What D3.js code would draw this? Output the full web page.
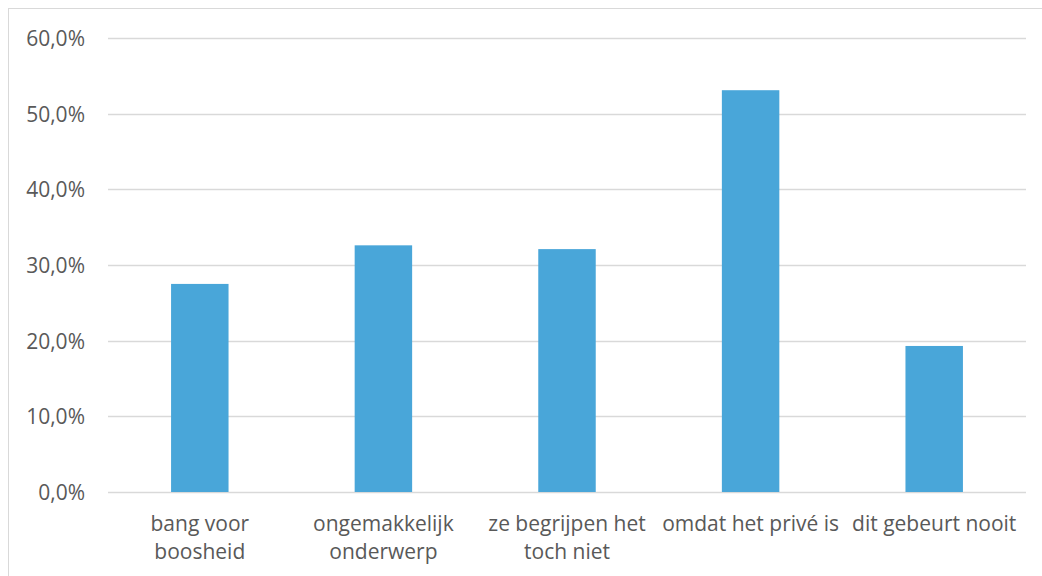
<!DOCTYPE html>
<html>
<head>
<meta charset="utf-8">
<script src="https://cdn.jsdelivr.net/npm/d3@7"></script>
<style>
  body { margin: 0; background: #fff; }
  svg text { font-family: "Open Sans", "Liberation Sans", sans-serif; fill: #595959; }
</style>
</head>
<body>
<svg id="chart" width="1042" height="576"></svg>
<script>
// categories (line breaks as Excel wraps them)
var categories = ["bang voor\nboosheid", "ongemakkelijk\nonderwerp", "ze begrijpen het\ntoch niet", "omdat het privé is", "dit gebeurt nooit"];
var values = [0.275, 0.326, 0.321, 0.531, 0.193];
var yTicks = [0, 0.1, 0.2, 0.3, 0.4, 0.5, 0.6];

var svg = d3.select("#chart");
var margin = {left: 108, right: 16, top: 38, bottom: 84},
    width = 1042 - margin.left - margin.right,
    height = 576 - margin.top - margin.bottom;

// outer border of the chart area
svg.append("rect")
  .attr("x", 8.5).attr("y", 8.5)
  .attr("width", 1040).attr("height", 580)
  .attr("fill", "none")
  .attr("stroke", "#d9d9d9");

var g = svg.append("g")
  .attr("transform", "translate(" + margin.left + "," + margin.top + ")");

var x = d3.scaleBand()
  .domain(categories)
  .range([0, width])
  .paddingInner(0.687)
  .paddingOuter(0.3435);

var y = d3.scaleLinear()
  .domain([0, 0.6])
  .range([height, 0]);

var fmt = function(d) { return d3.format(".1f")(d * 100).replace(".", ",") + "%"; };

// gridlines
g.append("g")
  .selectAll("line")
  .data(yTicks)
  .enter().append("line")
  .attr("x1", 0).attr("x2", width)
  .attr("y1", function(d) { return Math.round(y(d)) + 0.5; })
  .attr("y2", function(d) { return Math.round(y(d)) + 0.5; })
  .attr("stroke", "#d9d9d9")
  .attr("stroke-width", 1.3);

// y tick labels
g.append("g")
  .selectAll("text")
  .data(yTicks)
  .enter().append("text")
  .attr("x", -23)
  .attr("y", function(d) { return y(d) + 8; })
  .attr("text-anchor", "end")
  .style("font-size", "21px")
  .text(fmt);

// bars
g.append("g")
  .selectAll("rect")
  .data(values)
  .enter().append("rect")
  .attr("x", function(d, i) { return x(categories[i]); })
  .attr("width", x.bandwidth())
  .attr("y", function(d) { return y(d); })
  .attr("height", function(d) { return height - y(d); })
  .attr("fill", "#49a6d9");

// category labels
var labels = g.append("g")
  .selectAll("text")
  .data(categories)
  .enter().append("text")
  .attr("text-anchor", "middle")
  .attr("transform", function(d) { return "translate(" + (x(d) + x.bandwidth() / 2) + "," + (height + 39) + ")"; })
  .style("font-size", "21px");

labels.selectAll("tspan")
  .data(function(d) { return d.split("\n"); })
  .enter().append("tspan")
  .attr("x", 0)
  .attr("dy", function(d, i) { return i ? 28 : 0; })
  .text(function(d) { return d; });
</script>
</body>
</html>
